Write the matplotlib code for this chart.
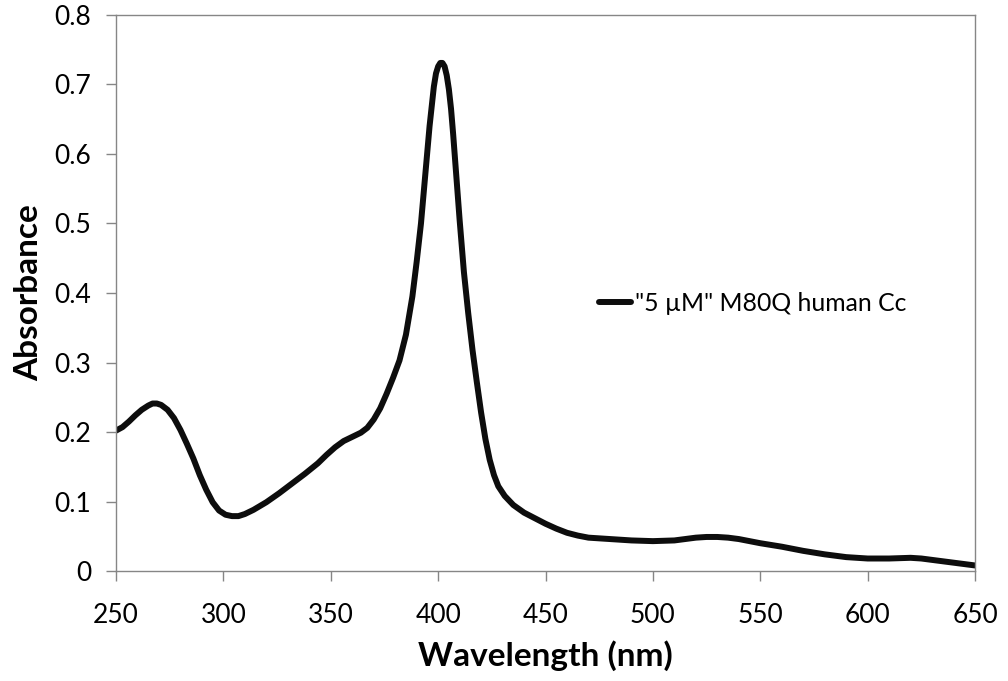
import matplotlib
matplotlib.use('Agg')
import matplotlib.pyplot as plt
from matplotlib.ticker import FixedLocator

# spectrum
wavelength = [250, 253, 256, 259, 262, 265, 267, 269, 271, 274, 277, 280, 283, 286,
              289, 292, 295, 298, 301, 304, 307, 310, 314, 320, 326, 332, 338, 344,
              348, 352, 356, 360, 364, 367, 370, 373, 376, 379, 382, 385, 388, 390,
              392, 394, 396, 398, 399, 400, 401, 402, 403, 404, 405, 406, 407, 408,
              410, 412, 414, 416, 418, 420, 422, 424, 426, 428, 431, 435, 440, 445,
              450, 455, 460, 465, 470, 480, 490, 500, 510, 515, 520, 525, 530, 535,
              540, 550, 560, 570, 580, 590, 600, 610, 620, 625, 630, 640, 650]
absorbance = [0.202, 0.207, 0.215, 0.224, 0.232, 0.238, 0.241, 0.241, 0.239, 0.232,
              0.220, 0.203, 0.183, 0.162, 0.138, 0.117, 0.099, 0.087, 0.081, 0.079,
              0.079, 0.082, 0.088, 0.099, 0.112, 0.126, 0.140, 0.155, 0.167, 0.178,
              0.187, 0.193, 0.199, 0.206, 0.218, 0.234, 0.255, 0.278, 0.303, 0.340,
              0.395, 0.445, 0.500, 0.570, 0.640, 0.697, 0.716, 0.726, 0.731, 0.731,
              0.726, 0.713, 0.693, 0.665, 0.628, 0.587, 0.505, 0.430, 0.371, 0.318,
              0.272, 0.228, 0.190, 0.160, 0.138, 0.122, 0.108, 0.095, 0.084, 0.076,
              0.068, 0.061, 0.055, 0.051, 0.048, 0.046, 0.044, 0.043, 0.044, 0.046,
              0.048, 0.049, 0.049, 0.048, 0.046, 0.040, 0.035, 0.029, 0.024, 0.020,
              0.018, 0.018, 0.019, 0.018, 0.016, 0.012, 0.008]
series_label = '"5 µM" M80Q human Cc'

x_ticks = [250, 300, 350, 400, 450, 500, 550, 600, 650]
y_ticks = [0, 0.1, 0.2, 0.3, 0.4, 0.5, 0.6, 0.7, 0.8]
y_tick_labels = ['0', '0.1', '0.2', '0.3', '0.4', '0.5', '0.6', '0.7', '0.8']

plt.rcParams['font.family'] = ['Lato', 'DejaVu Sans']
grey = '#868686'

fig = plt.figure(figsize=(10.08, 6.81), dpi=100)
ax = fig.add_axes([0.1151, 0.1615, 0.8522, 0.8165])

ax.plot(wavelength, absorbance, color='#0d0d0d', linewidth=4.3,
        solid_capstyle='round', solid_joinstyle='round', label=series_label)

ax.set_xlim(250, 650)
ax.set_ylim(0, 0.8)
ax.xaxis.set_major_locator(FixedLocator(x_ticks))
ax.set_yticks(y_ticks)
ax.set_yticklabels(y_tick_labels)

for sp in ax.spines.values():
    sp.set_color(grey)
    sp.set_linewidth(1.0)
ax.tick_params(axis='both', direction='out', length=7, width=1.0, color=grey,
               labelsize=19, labelcolor='black')
ax.tick_params(axis='x', pad=16)
ax.tick_params(axis='y', pad=11)

ax.set_xlabel('Wavelength (nm)', fontsize=24, fontweight='bold', labelpad=9)
ax.set_ylabel('Absorbance', fontsize=24, fontweight='bold', labelpad=8)

ax.legend(loc='center left', bbox_to_anchor=(0.551, 0.481), frameon=False,
          fontsize=17.8, handlelength=1.3, handletextpad=0.15, borderaxespad=0)

fig.savefig('out.png', dpi=100)
plt.close(fig)
